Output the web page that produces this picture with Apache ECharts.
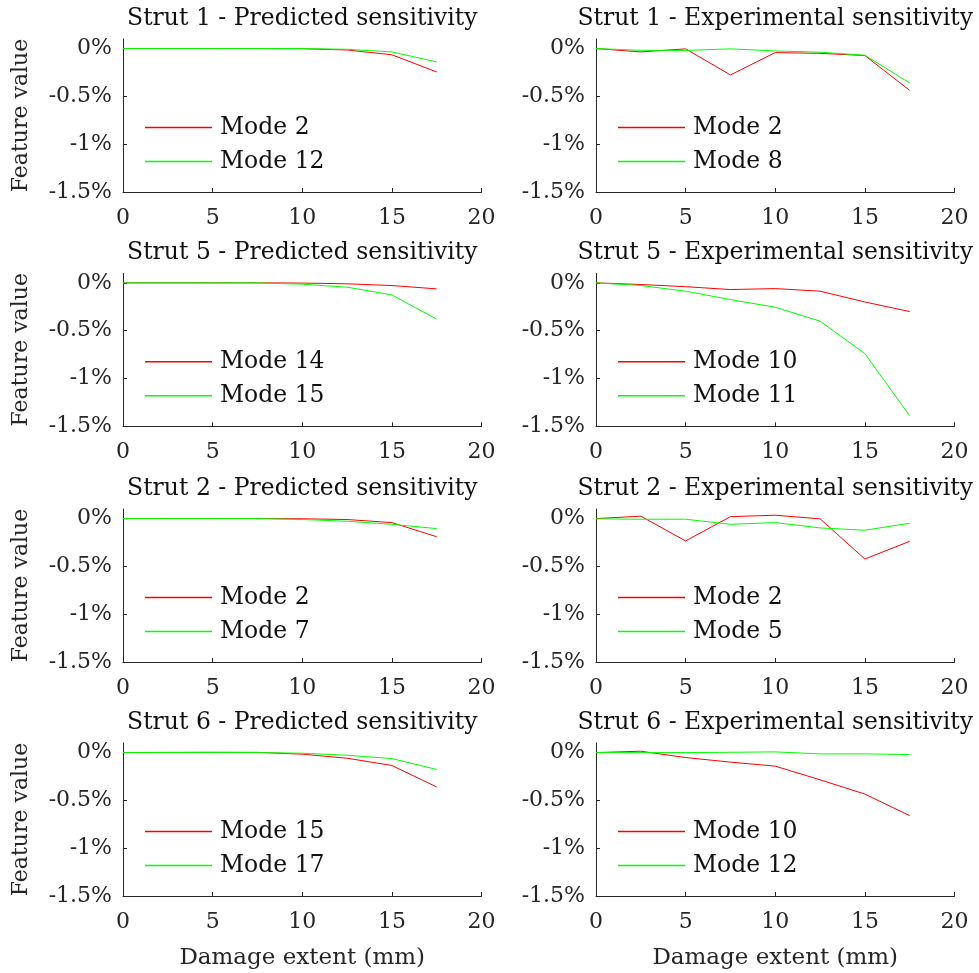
<!DOCTYPE html>
<html>
<head>
<meta charset="utf-8">
<script src="https://cdn.jsdelivr.net/npm/echarts@6/dist/echarts.min.js"></script>
<style>
html, body { margin: 0; padding: 0; background: #fff; }
#chart { width: 979px; height: 973px; }
</style>
</head>
<body>
<div id="chart"></div>
<script>
// damage extent (mm) - x values shared by every panel
var damage = [0, 2.5, 5, 7.5, 10, 12.5, 15, 17.5]
var xTicks = [0, 5, 10, 15, 20]
var yTicks = [-1.5, -1, -0.5, 0]

var titles = [
  'Strut 1 - Predicted sensitivity', 'Strut 1 - Experimental sensitivity',
  'Strut 5 - Predicted sensitivity', 'Strut 5 - Experimental sensitivity',
  'Strut 2 - Predicted sensitivity', 'Strut 2 - Experimental sensitivity',
  'Strut 6 - Predicted sensitivity', 'Strut 6 - Experimental sensitivity'
]
var redModes = ['Mode 2', 'Mode 2', 'Mode 14', 'Mode 10', 'Mode 2', 'Mode 2', 'Mode 15', 'Mode 10']
var greenModes = ['Mode 12', 'Mode 8', 'Mode 15', 'Mode 11', 'Mode 7', 'Mode 5', 'Mode 17', 'Mode 12']

// feature value in %
var s1PredMode2 = [0, 0, 0, 0, -0.002, -0.015, -0.065, -0.245]
var s1PredMode12 = [0, 0, 0, 0, 0, -0.008, -0.035, -0.14]
var s1ExpMode2 = [0, -0.035, -0.003, -0.276, -0.042, -0.05, -0.073, -0.437]
var s1ExpMode8 = [0, -0.018, -0.02, -0.003, -0.025, -0.038, -0.07, -0.36]
var s5PredMode14 = [0, 0, 0, 0, -0.002, -0.01, -0.028, -0.063]
var s5PredMode15 = [0, 0, 0, 0, -0.014, -0.045, -0.126, -0.38]
var s5ExpMode10 = [0, -0.017, -0.04, -0.07, -0.06, -0.087, -0.2, -0.3]
var s5ExpMode11 = [0, -0.028, -0.087, -0.175, -0.255, -0.4, -0.74, -1.39]
var s2PredMode2 = [0, 0, 0, 0, -0.002, -0.01, -0.042, -0.19]
var s2PredMode7 = [0, 0, 0, 0, -0.01, -0.028, -0.06, -0.105]
var s2ExpMode2 = [0, 0.025, -0.234, 0.02, 0.035, -0.003, -0.423, -0.238]
var s2ExpMode5 = [-0.003, -0.007, -0.007, -0.06, -0.042, -0.098, -0.122, -0.049]
var s6PredMode15 = [0, 0.002, 0.003, 0.002, -0.017, -0.059, -0.135, -0.36]
var s6PredMode17 = [0, 0, 0, 0, -0.007, -0.028, -0.063, -0.177]
var s6ExpMode10 = [0, 0.014, -0.052, -0.1, -0.142, -0.285, -0.434, -0.66]
var s6ExpMode12 = [0, 0, 0, 0.003, 0.007, -0.014, -0.014, -0.021]

var redLines = [s1PredMode2, s1ExpMode2, s5PredMode14, s5ExpMode10, s2PredMode2, s2ExpMode2, s6PredMode15, s6ExpMode10]
var greenLines = [s1PredMode12, s1ExpMode8, s5PredMode15, s5ExpMode11, s2PredMode7, s2ExpMode5, s6PredMode17, s6ExpMode12]

var FONT = 'DejaVu Serif'
var AXIS = '#262626'
var colLeft = [123, 596]
var rowTop = [39, 273.3, 509, 743]
var W = 358.5
var H = 153

var chart = echarts.init(document.getElementById('chart'))

var option = {
  backgroundColor: '#fff',
  animation: false,
  title: [], grid: [], xAxis: [], yAxis: [], legend: [], series: []
}

function toPoints (vals) {
  return damage.map(function (x, k) { return [x, vals[k]] })
}

function addPanel (i) {
  var row = Math.floor(i / 2)
  var col = i % 2
  var gLeft = colLeft[col]
  var gTop = rowTop[row]

  option.grid.push({ left: gLeft, top: gTop, width: W, height: H })

  option.title.push({
    text: titles[i],
    left: gLeft + W / 2,
    top: gTop - 33,
    textAlign: 'center',
    padding: 0,
    textStyle: { fontFamily: FONT, fontSize: 23.5, fontWeight: 'normal', color: '#111', lineHeight: 26 }
  })

  option.xAxis.push({
    gridIndex: i,
    type: 'value',
    min: 0, max: 20, interval: 5,
    axisLine: { show: true, onZero: false, lineStyle: { color: AXIS, width: 1 } },
    axisTick: { show: true, inside: true, length: 4, lineStyle: { color: AXIS } },
    axisLabel: { color: AXIS, fontFamily: FONT, fontSize: 22, margin: 15 },
    splitLine: { show: false },
    name: row === 3 ? 'Damage extent (mm)' : '',
    nameLocation: 'middle',
    nameGap: 51,
    nameTextStyle: { fontFamily: FONT, fontSize: 23, color: AXIS }
  })

  option.yAxis.push({
    gridIndex: i,
    type: 'value',
    min: -1.5, max: 0.1,
    axisLine: { show: true, onZero: false, lineStyle: { color: AXIS, width: 1 } },
    axisTick: { show: true, inside: true, length: 4, customValues: yTicks, lineStyle: { color: AXIS } },
    axisLabel: {
      color: AXIS, fontFamily: FONT, fontSize: 22, margin: 11, customValues: yTicks,
      formatter: function (v) { return v + '%' }
    },
    splitLine: { show: false },
    name: col === 0 ? 'Feature value' : '',
    nameLocation: 'middle',
    nameGap: 91,
    nameTextStyle: { fontFamily: FONT, fontSize: 22, color: AXIS }
  })

  var redName = 'p' + i + ':' + redModes[i]
  var greenName = 'p' + i + ':' + greenModes[i]

  option.legend.push({
    orient: 'vertical',
    left: gLeft + 22,
    top: gTop + 88.5 - 12,
    padding: 0,
    itemGap: 10,
    itemWidth: 67,
    itemHeight: 1.5,
    icon: 'rect',
    selectedMode: false,
    data: [redName, greenName],
    formatter: function (name) { return name.split(':')[1] },
    textStyle: { fontFamily: FONT, fontSize: 23.5, lineHeight: 24, color: '#111', padding: [0, 0, 0, 3] }
  })

  option.series.push({
    type: 'line', name: redName, xAxisIndex: i, yAxisIndex: i,
    data: toPoints(redLines[i]), symbol: 'none', color: '#ff0000',
    lineStyle: { width: 1, color: '#ff0000' }
  })
  option.series.push({
    type: 'line', name: greenName, xAxisIndex: i, yAxisIndex: i,
    data: toPoints(greenLines[i]), symbol: 'none', color: '#00ff00',
    lineStyle: { width: 1, color: '#00ff00' }
  })
}

for (var i = 0; i < 8; i++) addPanel(i)

chart.setOption(option)
</script>
</body>
</html>
